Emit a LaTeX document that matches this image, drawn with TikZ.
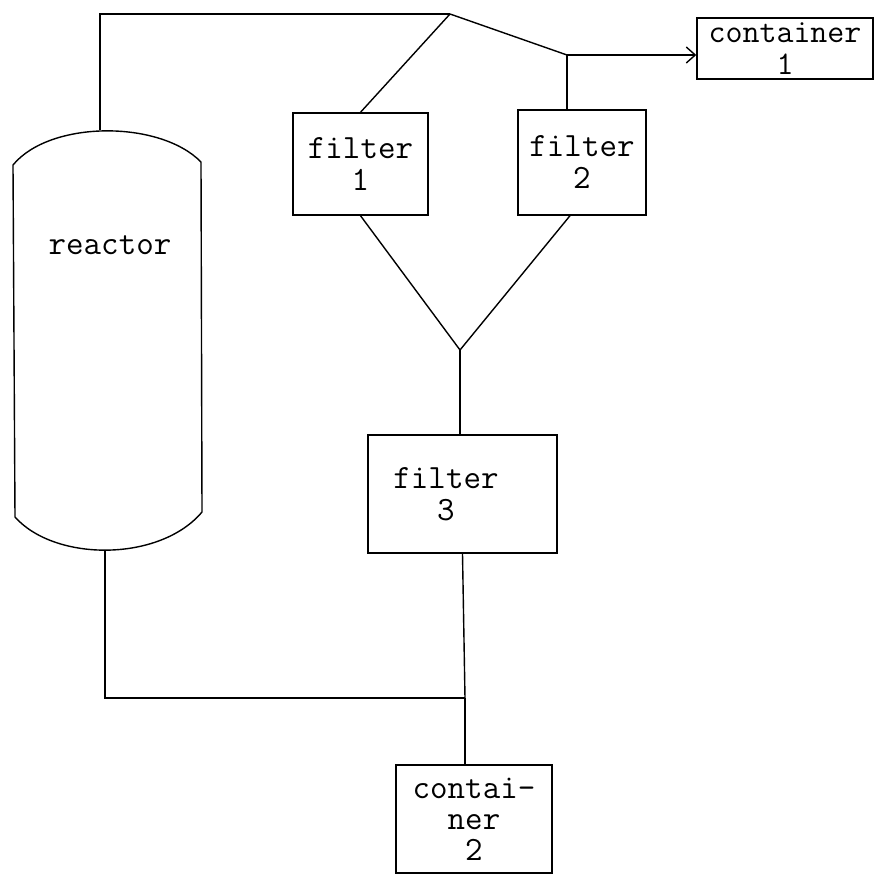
\documentclass[tikz,border=0pt]{standalone}
\usetikzlibrary{arrows.meta}
\begin{document}
\begin{tikzpicture}[x=1pt,y=-1pt,line width=1.4pt,
  txt/.style={font=\ttfamily\fontsize{34}{32}\selectfont,align=center,inner sep=0pt},
  box/.style={draw,rectangle,inner sep=0pt,txt},
  arr/.style={-{Straight Barb[length=9pt,width=16pt,line width=1.4pt]}}]
\useasboundingbox (0,0) rectangle (876,875);
% reactor
\coordinate (rtl) at (13,165);
\coordinate (rtr) at (201,162);
\coordinate (rbl) at (15,517);
\coordinate (rbr) at (202,512);
\draw (rtl) .. controls (50,120) and (160,120) .. (rtr) -- (rbr)
      .. controls (160,562) and (55,562) .. (rbl) -- cycle;
\node[txt] (rlabel) at (110,245) {reactor};
\coordinate (rtop) at (100,130);
\coordinate (rbot) at (105,550);
% boxes
\node[box,minimum width=135pt,minimum height=102pt] (f1) at (360.5,164) {filter\\1};
\node[box,minimum width=128pt,minimum height=105pt] (f2) at (582,162.5) {filter\\2};
\node[box,minimum width=176pt,minimum height=61pt,font=\ttfamily\fontsize{33}{32}\selectfont] (c1) at (785,48.5) {container\\1};
\node[box,minimum width=189pt,minimum height=118pt] (f3) at (462.5,494) {};
\node[txt] (f3t) at (446,494) {filter\\3};
\node[box,minimum width=156pt,minimum height=108pt,font=\ttfamily\fontsize{34}{31}\selectfont] (c2) at (474,819) {contai-\\ner\\2};
% connectors
\coordinate (C0) at (100,14);
\coordinate (T) at (450,14);
\coordinate (J1) at (567,55);
\coordinate (V) at (460,350);
\coordinate (J2) at (465,698);
\coordinate (C1) at (105,698);
\draw (rtop) -- (C0) -- (T);
\draw (T) -- (f1.north);
\draw (T) -- (J1);
\draw[arr] (J1) -- (J1 -| c1.west);
\draw (J1) -- (J1 |- f2.north);
\draw (f1.south) -- (V) -- ([xshift=-12pt]f2.south);
\draw (V) -- (V |- f3.north);
\draw (f3.south) -- (J2);
\draw (rbot) -- (C1) -- (J2);
\draw (J2) -- (J2 |- c2.north);
\end{tikzpicture}
\end{document}
